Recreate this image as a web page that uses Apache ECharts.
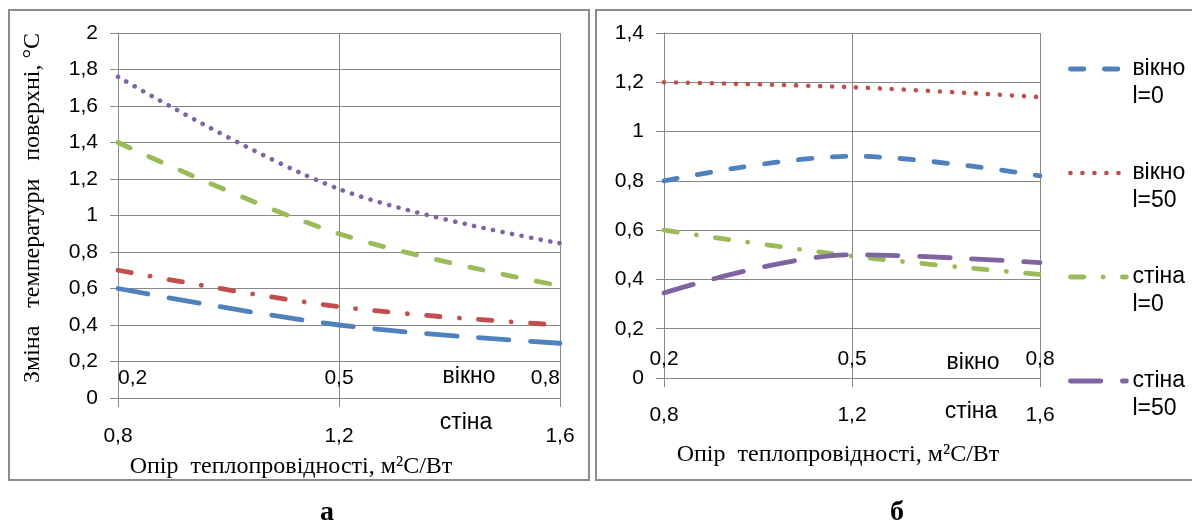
<!DOCTYPE html>
<html><head><meta charset="utf-8">
<script src="https://cdn.jsdelivr.net/npm/echarts@6/dist/echarts.min.js"></script>
<style>html,body{margin:0;padding:0;background:#fff}#c{width:1192px;height:527px}</style>
</head><body><div id="c"></div>
<script>
// x positions (primary axis, стіна)
const wallX = [0.8, 1.2, 1.6];
// secondary axis tick labels (вікно)
const windowTicks = ['0,2', '0,5', '0,8'];
// panel а series
const aPurple = [1.76, 1.145, 0.848];
const aGreen  = [1.40, 0.90, 0.615];
const aRed    = [0.70, 0.50, 0.40];
const aBlue   = [0.60, 0.40, 0.30];
// panel б series
const bWindow0  = [0.80, 0.90, 0.82];
const bWindow50 = [1.20, 1.18, 1.14];
const bWall0    = [0.60, 0.495, 0.42];
const bWall50   = [0.345, 0.50, 0.468];
const legendNames = ['вікно\nl=0', 'вікно\nl=50', 'стіна\nl=0', 'стіна\nl=50'];

const COL = {blue:'#4F81BD', red:'#C0504D', green:'#9BBB59', purple:'#8064A2'};
const STY = {
  dotA:     {width:4.6, type:[0.1, 9.6], cap:'round'},
  dot:      {width:4.6, type:[0.1, 11.9], cap:'round'},
  dash:     {width:4.8, type:[13.5, 20.5], cap:'round'},
  dashDot:  {width:4.8, type:[13.5, 19.2, 0.1, 19.2], cap:'round'},
  longDash: {width:4.8, type:[30.5, 21.5], cap:'round'}
};
const GRAY = '#888888';
const SANS = 'Liberation Sans';
const fmt = v => String(+v.toFixed(1)).replace('.', ',');

function pts(vals){ return wallX.map((x,i)=>[x, vals[i]]); }
function ser(name, vals, color, style, xi, yi){
  return {
    name, type:'line', xAxisIndex:xi, yAxisIndex:yi, data:pts(vals),
    smooth:0.35, symbol:'none', showSymbol:false, animation:false,
    lineStyle:Object.assign({color}, style), itemStyle:{color}
  };
}
function yAx(grid, max){
  return {type:'value', gridIndex:grid, min:0, max:max, interval:0.2,
    axisLine:{show:true, lineStyle:{color:GRAY}},
    axisTick:{show:true, length:8, lineStyle:{color:GRAY}},
    splitLine:{show:true, lineStyle:{color:GRAY}},
    axisLabel:{margin:20, color:'#000', fontFamily:SANS, fontSize:21, formatter:fmt}};
}
function xMain(grid, margin){
  return {type:'value', gridIndex:grid, min:0.8, max:1.6, interval:0.4, position:'bottom',
    axisLine:{show:true, onZero:false, lineStyle:{color:GRAY}},
    axisTick:{show:true, length:9, lineStyle:{color:GRAY}},
    splitLine:{show:true, lineStyle:{color:GRAY}},
    axisLabel:{margin:margin, color:'#000', fontFamily:SANS, fontSize:21, formatter:fmt}};
}
function xSec(grid, margin, alignEnds){
  const lab = {inside:true, margin:margin, color:'#000', fontFamily:SANS, fontSize:21};
  if (alignEnds){ lab.alignMinLabel='left'; lab.alignMaxLabel='right'; }
  return {type:'category', gridIndex:grid, data:windowTicks, boundaryGap:false, position:'bottom',
    axisLine:{show:false}, axisTick:{show:false}, splitLine:{show:false}, axisLabel:lab};
}
function txt(x, y, text, font, extra){
  return Object.assign({type:'text', x, y, silent:true,
    style:Object.assign({text, fill:'#000', align:'center', verticalAlign:'middle'}, font)}, extra||{});
}
const legendStyles = [
  [COL.blue, STY.dash], [COL.red, STY.dot], [COL.green, STY.dashDot], [COL.purple, STY.longDash]
];

const chart = echarts.init(document.getElementById('c'), null, {renderer:'canvas'});
chart.setOption({
  animation:false,
  backgroundColor:'#fff',
  grid:[
    {left:118, top:33, width:442, height:365},
    {left:664, top:33, width:376, height:345}
  ],
  xAxis:[xMain(0, 28), xSec(0, 9, true), xMain(1, 27), xSec(1, 8, false)],
  yAxis:[yAx(0, 2), yAx(1, 1.4)],
  legend:{
    data:legendNames.map((n,i)=>({
      name:n,
      itemStyle:{opacity:0, color:'rgba(0,0,0,0)', borderWidth:0},
      lineStyle:Object.assign({color:legendStyles[i][0]}, legendStyles[i][1])
    })),
    orient:'vertical', left:1063, top:22,
    itemWidth:56, itemHeight:14, itemGap:20,
    formatter: n => '\n' + n,
    textStyle:{fontFamily:SANS, fontSize:23, lineHeight:28, color:'#000', padding:[0,0,0,1]}
  },
  series:[
    ser('а1', aPurple, COL.purple, STY.dotA, 0, 0),
    ser('а2', aGreen, COL.green, STY.dash, 0, 0),
    ser('а3', aRed, COL.red, STY.dashDot, 0, 0),
    ser('а4', aBlue, COL.blue, STY.longDash, 0, 0),
    ser(legendNames[0], bWindow0, COL.blue, STY.dash, 2, 1),
    ser(legendNames[1], bWindow50, COL.red, STY.dot, 2, 1),
    ser(legendNames[2], bWall0, COL.green, STY.dashDot, 2, 1),
    ser(legendNames[3], bWall50, COL.purple, STY.longDash, 2, 1)
  ],
  graphic:[
    {type:'rect', silent:true, z:-1, shape:{x:9, y:10, width:580, height:470},
      style:{fill:'none', stroke:'#8c8c8c', lineWidth:2}},
    {type:'rect', silent:true, z:-1, shape:{x:596, y:10, width:640, height:470},
      style:{fill:'none', stroke:'#8c8c8c', lineWidth:2}},
    txt(469, 377, 'вікно', {font:'23px "Liberation Sans"'}),
    txt(466, 423, 'стіна', {font:'23px "Liberation Sans"'}),
    txt(973, 363, 'вікно', {font:'23px "Liberation Sans"'}),
    txt(971, 412, 'стіна', {font:'23px "Liberation Sans"'}),
    txt(291, 467, 'Опір  теплопровідності, м²С/Вт', {font:'24px "Liberation Serif"'}),
    txt(838, 455, 'Опір  теплопровідності, м²С/Вт', {font:'24px "Liberation Serif"'}),
    txt(33, 208, 'Зміна   температури   поверхні, °С', {font:'24px "Liberation Serif"'}, {rotation:Math.PI/2}),
    txt(327, 513, 'а', {font:'bold 28px "Liberation Serif"'}),
    txt(897, 513, 'б', {font:'bold 28px "Liberation Serif"'})
  ]
});
</script></body></html>
